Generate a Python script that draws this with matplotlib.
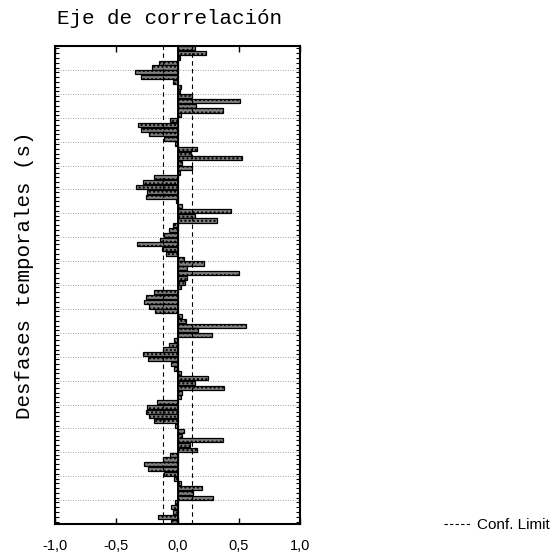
import numpy as np
import matplotlib
matplotlib.use("Agg")
import matplotlib.pyplot as plt
from matplotlib.lines import Line2D

# correlation per lag (lags 1..100), read top to bottom
lags = list(range(1, 101))
corr = [
    0.14, 0.23, 0.02, -0.15, -0.21, -0.35, -0.30, -0.04, 0.03, 0.02,
    0.12, 0.51, 0.15, 0.37, 0.03, -0.06, -0.32, -0.30, -0.23, -0.11,
    -0.02, 0.16, 0.11, 0.53, 0.04, 0.12, 0.02, -0.19, -0.28, -0.34,
    -0.25, -0.26, -0.01, 0.04, 0.44, 0.14, 0.32, -0.04, -0.07, -0.11,
    -0.14, -0.33, -0.13, -0.09, 0.05, 0.22, 0.08, 0.50, 0.08, 0.06,
    0.03, -0.19, -0.26, -0.27, -0.23, -0.18, 0.04, 0.07, 0.56, 0.17,
    0.28, -0.03, -0.07, -0.12, -0.28, -0.24, -0.05, -0.03, 0.03, 0.25,
    0.14, 0.38, 0.04, 0.03, -0.17, -0.25, -0.26, -0.23, -0.19, -0.02,
    0.05, 0.04, 0.37, 0.10, 0.16, -0.06, -0.12, -0.27, -0.24, -0.11,
    -0.03, 0.03, 0.20, 0.13, 0.29, -0.02, -0.05, -0.04, -0.16, -0.05,
]
conf_limit = 0.115
xticks = [-1.0, -0.5, 0.0, 0.5, 1.0]
xtick_labels = ["-1,0", "-0,5", "0,0", "0,5", "1,0"]

mono = "Liberation Mono"
sans = "Liberation Sans"

fig = plt.figure(figsize=(5.55, 5.56), dpi=100)
ax = fig.add_axes([55 / 555, 1 - 524 / 556, 245 / 555, 478 / 556])

# dotted guide lines every 5 lags
for y in np.arange(5.5, 100, 5):
    ax.axhline(y, color="0.5", lw=0.6, ls=(0, (1, 2)), zorder=0)

ax.barh(lags, corr, height=0.85, color="0.5", edgecolor="black",
        hatch="....", linewidth=0.9, zorder=2)

ax.axvline(0, color="black", lw=1.4, zorder=3)
for c in (-conf_limit, conf_limit):
    ax.axvline(c, color="black", lw=0.8, ls=(0, (4, 3)), zorder=3)

ax.set_xlim(-1, 1)
ax.set_ylim(100.5, 0.5)
ax.set_xticks(xticks)
ax.set_xticklabels(xtick_labels, fontfamily=sans, fontsize=10.5)
ax.set_yticks(lags)
ax.set_yticklabels([])
ax.tick_params(axis="x", direction="in", top=True, length=4, width=1, pad=11)
ax.tick_params(axis="y", direction="in", left=True, right=True, length=3, width=0.8)
for s in ax.spines.values():
    s.set_linewidth(1.5)

fig.text(57 / 555, 1 - 18 / 556, "Eje de correlación", fontfamily=mono,
         fontsize=15, ha="left", va="center")
fig.text(25 / 555, 1 - 275 / 556, "Desfases temporales (s)", fontfamily=mono,
         fontsize=15, rotation=90, ha="center", va="center")

handle = Line2D([], [], color="black", lw=0.8, ls=(0, (3, 2)))
fig.legend([handle], ["Conf. Limit"], loc="center left",
           bbox_to_anchor=(430 / 555, 1 - 525 / 556), frameon=False,
           handlelength=1.8, handletextpad=0.4,
           prop={"family": sans, "size": 11})

fig.savefig("out.png", dpi=100)
